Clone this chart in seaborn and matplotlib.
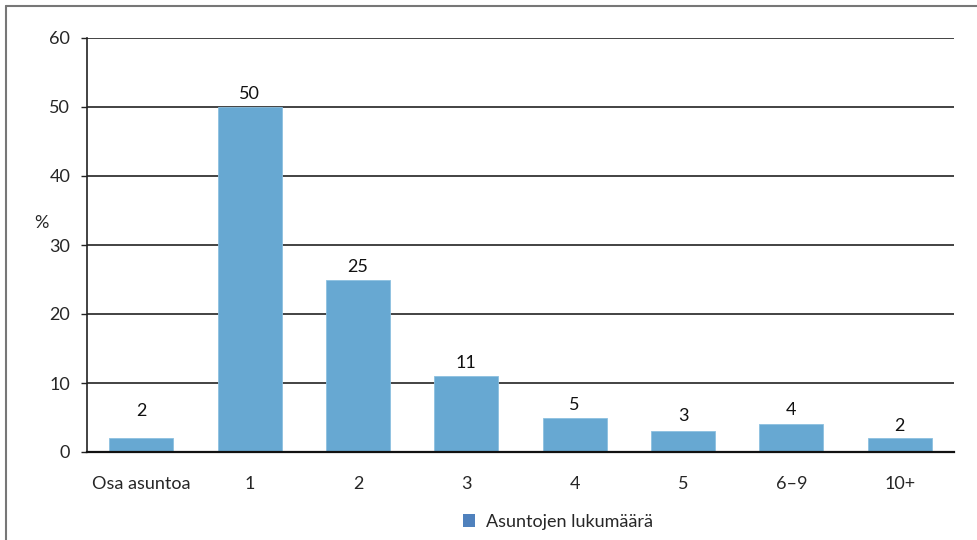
import matplotlib
matplotlib.use("Agg")
import matplotlib.pyplot as plt
import seaborn as sns
import pandas as pd
from matplotlib.lines import Line2D
from matplotlib.patches import Patch

categories = ["Osa asuntoa", "1", "2", "3", "4", "5", "6–9", "10+"]
values = [2, 50, 25, 11, 5, 3, 4, 2]
series_name = "Asuntojen lukumäärä"
y_ticks = [0, 10, 20, 30, 40, 50, 60]

sns.set_style("white")
plt.rcParams['font.family'] = ['Lato', 'DejaVu Sans']

df = pd.DataFrame({"cat": categories, "val": values})

fig = plt.figure(figsize=(9.77, 5.4), dpi=100)
ax = fig.add_axes([87/977, 1 - 452/540, (954-87)/977, (452-38)/540])

sns.barplot(data=df, x="cat", y="val", ax=ax, color="#67a8d2", width=0.59,
            saturation=1, edgecolor="#8cc0e0", linewidth=0.6, zorder=3)

ax.set_ylim(0, 60)
ax.set_yticks(y_ticks)
ax.set_xlim(-0.5, len(categories) - 0.5)
for t in y_ticks[1:]:
    ax.axhline(t, color="#222222", lw=1.2, zorder=1)

for sp in ["top", "right"]:
    ax.spines[sp].set_visible(False)
ax.spines["left"].set_color("#222222")
ax.spines["left"].set_linewidth(1.2)
ax.spines["bottom"].set_color("#111111")
ax.spines["bottom"].set_linewidth(1.6)
ax.spines["bottom"].set_zorder(4)

ax.tick_params(axis="y", which="both", left=True, length=4, width=1, color="#222222",
               labelsize=13, pad=8)
ax.tick_params(axis="x", bottom=False, labelsize=13, pad=14)
ax.set_xlabel("")
ax.set_ylabel("%", rotation=0, fontsize=13, labelpad=12)
ax.yaxis.set_label_coords(-0.052, 0.533)

# label offsets in pixels above bar top (first label sits higher in the original)
label_offsets_px = [27, 13, 13, 13, 12, 15, 14, 12]
for i, v in enumerate(values):
    ax.annotate(f"{v}", xy=(i, v), xytext=(0, label_offsets_px[i] * 0.72),
                textcoords="offset points", ha="center", va="center",
                fontsize=13, color="#111111")

leg_handle = Patch(facecolor="#4f81bd", edgecolor="none")
fig.legend([leg_handle], [series_name], loc="center", bbox_to_anchor=(558/977, 1 - 522/540),
           frameon=False, fontsize=13, handlelength=0.7, handleheight=0.7, handletextpad=0.6)

fig.add_artist(Line2D([6/977, 1], [1 - 6/540, 1 - 6/540], transform=fig.transFigure,
                      color="#777777", lw=1.5))
fig.add_artist(Line2D([6/977, 6/977], [0, 1 - 6/540], transform=fig.transFigure,
                      color="#777777", lw=1.5))

fig.savefig("out.png", dpi=100)
